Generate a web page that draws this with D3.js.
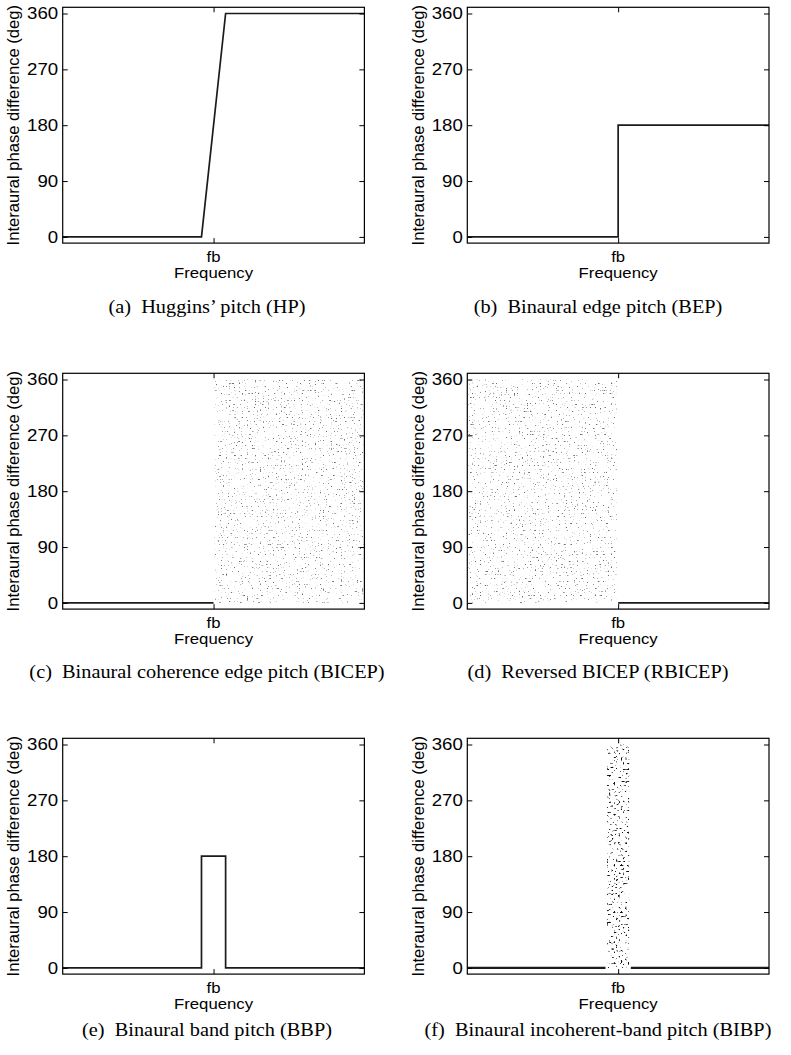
<!DOCTYPE html>
<html>
<head>
<meta charset="utf-8">
<script src="https://cdn.jsdelivr.net/npm/d3@7/dist/d3.min.js"></script>
<style>
  html, body { margin: 0; padding: 0; background: #fff; }
  svg { display: block; }
  text { white-space: pre; }
</style>
</head>
<body>
<svg id="fig" width="791" height="1055"></svg>
<script>
// ---- data -------------------------------------------------------------
// Frequency is normalised so that the edge frequency fb sits at 0.5.
const phaseTicks = [0, 90, 180, 270, 360];
const freqTicks = [0.5];
const freqTickLabels = ["fb"];

// (a) Huggins' pitch: phase ramps 0 -> 360 across a narrow band around fb
const hpFreq  = [0, 0.46, 0.54, 1];
const hpPhase = [0, 0, 360, 360];

// (b) Binaural edge pitch: step from 0 to 180 at fb
const bepFreq  = [0, 0.5, 0.5, 1];
const bepPhase = [0, 0, 180, 180];

// (c) BICEP: coherent below fb, incoherent (random phase) above
const bicepFreq  = [0, 0.5];
const bicepPhase = [0, 0];
const bicepNoiseBand = [0.5, 1];

// (d) Reversed BICEP: incoherent below fb, coherent above
const rbicepFreq  = [0.5, 1];
const rbicepPhase = [0, 0];
const rbicepNoiseBand = [0, 0.5];

// (e) Binaural band pitch: 180 deg band around fb
const bbpFreq  = [0, 0.46, 0.46, 0.54, 0.54, 1];
const bbpPhase = [0, 0, 180, 180, 0, 0];

// (f) Binaural incoherent-band pitch: random phase in a band around fb
const bibpLowFreq   = [0, 0.458];
const bibpHighFreq  = [0.542, 1];
const bibpPhase     = [0, 0];
const bibpNoiseBand = [0.46, 0.54];

const captions = [
  "(a)  Huggins\u2019 pitch (HP)",
  "(b)  Binaural edge pitch (BEP)",
  "(c)  Binaural coherence edge pitch (BICEP)",
  "(d)  Reversed BICEP (RBICEP)",
  "(e)  Binaural band pitch (BBP)",
  "(f)  Binaural incoherent-band pitch (BIBP)"
];
const yLabel = "Interaural phase difference (deg)";
const xLabel = "Frequency";

// ---- layout -----------------------------------------------------------
const colLeft = [62.7, 467.3];
const rowTop = [7.3, 373.3, 738.3];
const plotW = 301.7, plotH = 235.8;
const captionX = [207, 598];
const captionY = [313, 678, 1036];
const sans = "'Liberation Sans', Arial, Helvetica, sans-serif";
const serif = "'Liberation Serif', 'Times New Roman', Times, serif";
const ink = "#1b1b1b";

const svg = d3.select("#fig");

// speckle textures used to depict randomly distributed phase
const defs = svg.append("defs");
function speckle(id, freq, seed, gain, offset) {
  const f = defs.append("filter")
    .attr("id", id)
    .attr("x", 0).attr("y", 0).attr("width", 1).attr("height", 1)
    .attr("color-interpolation-filters", "sRGB");
  f.append("feTurbulence")
    .attr("type", "fractalNoise")
    .attr("baseFrequency", freq)
    .attr("numOctaves", 1)
    .attr("seed", seed)
    .attr("result", "noise");
  f.append("feColorMatrix")
    .attr("in", "noise")
    .attr("type", "matrix")
    .attr("values", `0 0 0 0 0  0 0 0 0 0  0 0 0 0 0  ${gain} 0 0 0 ${offset}`)
    .attr("result", "mask");
  f.append("feComposite")
    .attr("in", "SourceGraphic")
    .attr("in2", "mask")
    .attr("operator", "in");
}
speckle("speckle-fine", "0.618 0.707", 11, 10, -6.55);
speckle("speckle-coarse", "0.43 0.49", 5, 10, -6.15);

function stretchedText(g, x, y, str, size, sx, anchor, family) {
  return g.append("text")
    .attr("transform", `translate(${x},${y}) scale(${sx},1)`)
    .attr("text-anchor", anchor)
    .attr("font-family", family)
    .attr("font-size", size)
    .attr("fill", "#000")
    .text(str);
}

function panel(col, row, spec) {
  const x0 = colLeft[col], y0 = rowTop[row];
  const g = svg.append("g").attr("transform", `translate(${x0},${y0})`);
  const x = d3.scaleLinear().domain([0, 1]).range([0, plotW]);
  const y = d3.scaleLinear().domain([-10, 370]).range([plotH, 0]);

  // random-phase regions
  (spec.noise || []).forEach(n => {
    g.append("rect")
      .attr("x", x(n.band[0]) + 1)
      .attr("width", x(n.band[1]) - x(n.band[0]) - 2)
      .attr("y", y(phaseTicks[phaseTicks.length - 1]))
      .attr("height", y(phaseTicks[0]) - y(phaseTicks[phaseTicks.length - 1]))
      .attr("fill", n.color)
      .attr("filter", `url(#${n.filter})`);
  });

  // phase curves
  const line = d3.line().x(d => x(d[0])).y(d => y(d[1]));
  spec.lines.forEach(l => {
    g.append("path")
      .datum(d3.zip(l.freq, l.phase))
      .attr("d", line)
      .attr("fill", "none")
      .attr("stroke", ink)
      .attr("stroke-width", l.width || 1.7)
      .attr("stroke-linejoin", "miter");
  });

  // axes: ticks point inward on all four sides
  const tl = 5;
  const yl = g.append("g").call(d3.axisLeft(y).tickValues(phaseTicks).tickSize(-tl).tickFormat(() => ""));
  const yr = g.append("g").attr("transform", `translate(${plotW},0)`)
    .call(d3.axisRight(y).tickValues(phaseTicks).tickSize(-tl).tickFormat(() => ""));
  const xb = g.append("g").attr("transform", `translate(0,${plotH})`)
    .call(d3.axisBottom(x).tickValues(freqTicks).tickSize(-tl).tickFormat(() => ""));
  const xt = g.append("g")
    .call(d3.axisTop(x).tickValues(freqTicks).tickSize(-tl).tickFormat(() => ""));
  [yl, yr, xb, xt].forEach(a => {
    a.select(".domain").remove();
    a.selectAll(".tick line").attr("stroke", "#000").attr("stroke-width", 1);
  });

  // frame
  g.append("rect")
    .attr("x", 0).attr("y", 0).attr("width", plotW).attr("height", plotH)
    .attr("fill", "none").attr("stroke", "#000").attr("stroke-width", 1.2);

  // tick labels
  phaseTicks.forEach(v => {
    stretchedText(g, -4.5, y(v) + 5.9, String(v), 16.5, 1.13, "end", sans);
  });
  freqTicks.forEach((v, i) => {
    stretchedText(g, x(v), plotH + 18.6, freqTickLabels[i], 15.5, 1.08, "middle", sans);
  });
  stretchedText(g, plotW / 2, plotH + 35, xLabel, 15.5, 1.08, "middle", sans);

  // y-axis label
  g.append("text")
    .attr("transform", `translate(-43.5,${plotH / 2}) rotate(-90)`)
    .attr("text-anchor", "middle")
    .attr("font-family", sans)
    .attr("font-size", 16.6)
    .text(yLabel);

  // caption
  stretchedText(svg, captionX[col], captionY[row], spec.caption, 19, 1.07, "middle", serif);
}

panel(0, 0, { caption: captions[0], lines: [{ freq: hpFreq, phase: hpPhase }] });
panel(1, 0, { caption: captions[1], lines: [{ freq: bepFreq, phase: bepPhase }] });
panel(0, 1, {
  caption: captions[2],
  lines: [{ freq: bicepFreq, phase: bicepPhase }],
  noise: [{ band: bicepNoiseBand, color: "#6e6e6e", filter: "speckle-fine" }]
});
panel(1, 1, {
  caption: captions[3],
  lines: [{ freq: rbicepFreq, phase: rbicepPhase }],
  noise: [{ band: rbicepNoiseBand, color: "#6e6e6e", filter: "speckle-fine" }]
});
panel(0, 2, { caption: captions[4], lines: [{ freq: bbpFreq, phase: bbpPhase }] });
panel(1, 2, {
  caption: captions[5],
  lines: [
    { freq: bibpLowFreq, phase: bibpPhase, width: 2.4 },
    { freq: bibpHighFreq, phase: bibpPhase, width: 2.4 }
  ],
  noise: [{ band: bibpNoiseBand, color: "#111", filter: "speckle-coarse" }]
});
</script>
</body>
</html>
